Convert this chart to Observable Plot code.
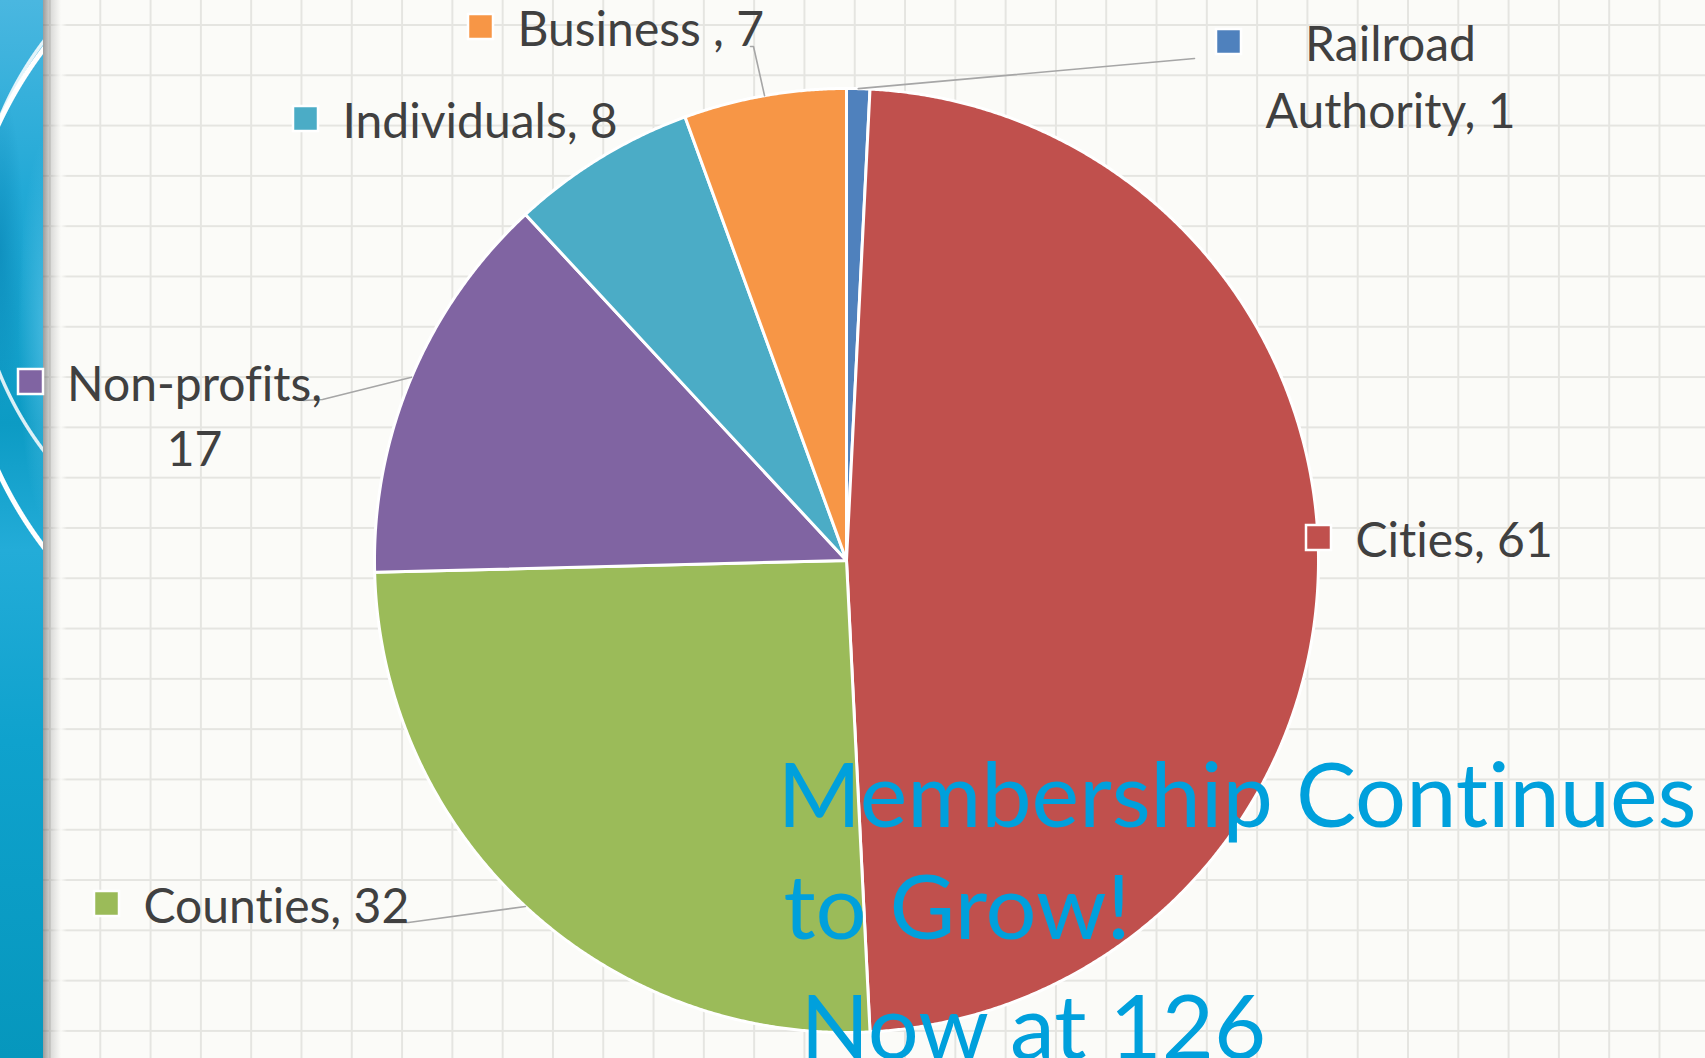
<!DOCTYPE html>
<html>
<head>
<meta charset="utf-8">
<script src="https://cdn.jsdelivr.net/npm/d3@7"></script>
<script src="https://cdn.jsdelivr.net/npm/@observablehq/plot@0.6"></script>
<style>
html, body { margin: 0; padding: 0; overflow: hidden; width: 1705px; height: 1058px; }
#stage {
  position: relative; width: 1705px; height: 1058px;
  background-color: #fbfbf8;
  background-image:
    linear-gradient(to right, #e5e5e1 0, #e5e5e1 2px, transparent 2px),
    linear-gradient(to bottom, #e5e5e1 0, #e5e5e1 2px, transparent 2px);
  background-size: 50.3px 50.3px;
  background-position: 49px 24px;
}
#band {
  position: absolute; left: 0; top: 0; width: 43px; height: 100%;
  background:
    radial-gradient(circle at 313px 246px, transparent 336px, rgba(255,255,255,0.85) 337px, rgba(255,255,255,0.85) 339.5px, transparent 340.5px),
    radial-gradient(circle at 372px 298px, transparent 409px, #ffffff 410px, #ffffff 414px, transparent 415px),
    radial-gradient(ellipse 40px 260px at 48px 330px, rgba(90,195,232,0.75), transparent 75%),
    radial-gradient(ellipse 30px 200px at 0px 250px, rgba(0,120,170,0.45), transparent 80%),
    linear-gradient(to bottom, #4ab7e0 0%, #22a9d6 18%, #0c9bc4 40%, #23acd8 52%, #0fa2cd 70%, #0697bd 100%);
}
#shade {
  position: absolute; left: 43px; top: 0; width: 24px; height: 100%;
  background: linear-gradient(to right, rgba(80,80,80,0.55) 0%, rgba(150,150,150,0.3) 35%, rgba(251,251,248,0.9) 75%, rgba(251,251,248,0) 100%);
}
#chart { position: absolute; left: 0; top: 0; }
#chart svg text { font-variant-ligatures: none; font-feature-settings: "liga" 0, "clig" 0; }
</style>
</head>
<body>
<div id="stage">
  <div id="band"></div>
  <div id="shade"></div>
  <div id="chart"></div>
</div>
<script>
// ---- data ----
const categories = ["Railroad Authority", "Cities", "Counties", "Non-profits", "Individuals", "Business "];
const values = [1, 61, 32, 17, 8, 7];
const colors = ["#4f81bd", "#c0504d", "#9bbb59", "#8064a2", "#4bacc6", "#f79646"];
const titleLines = ["Membership Continues", "to Grow!", "Now at 126"];

// ---- layout (positions, not data) ----
const W = 1705, H = 1058;
const pie = { cx: 846, cy: 560, r: 472 };
// left edge of text block, first baseline, words on first line (wrap), line spacing, leader elbow points
const labelLayout = [
  { left: 1265, base: 60,  wrap: 1, lh: 67, align: "middle", leader: [[1194, 58]] },
  { left: 1355, base: 556, align: "start" },
  { left: 143,  base: 922, align: "start", leader: [[408, 922], [387, 922]] },
  { left: 67,   base: 400, wrap: 1, lh: 65, align: "middle", leader: [[322, 399], [303, 400]] },
  { left: 342,  base: 137, align: "start" },
  { left: 517,  base: 45,  align: "start", leader: [[753, 46], [750, 46]] }
];
const titleLayout = [{ x: 777, y: 826 }, { x: 783, y: 938 }, { x: 800, y: 1058 }];
const labelFont = "Lato", labelSize = 48, titleSize = 90;

// ---- geometry from data ----
const arcs = d3.pie().sort(null).value(d => d)(values);
const slices = arcs.flatMap((a, i) => {
  const n = Math.max(2, Math.ceil((a.endAngle - a.startAngle) / (Math.PI / 720)));
  const pts = [{ cat: categories[i], x: pie.cx, y: pie.cy }];
  for (let k = 0; k <= n; k++) {
    const t = a.startAngle + (a.endAngle - a.startAngle) * k / n;
    pts.push({ cat: categories[i], x: pie.cx + pie.r * Math.sin(t), y: pie.cy - pie.r * Math.cos(t) });
  }
  return pts;
});

const ctx = document.createElement("canvas").getContext("2d");
ctx.font = `${labelSize}px ${labelFont}`;

const labelRows = [];
const keys = [];
const leaders = [];
categories.forEach((c, i) => {
  const L = labelLayout[i];
  const words = `${c}, ${values[i]}`.split(" ").filter(w => w.length);
  const lines = L.wrap ? [words.slice(0, L.wrap).join(" "), words.slice(L.wrap).join(" ")] : [words.join(" ")];
  const maxW = d3.max(lines, s => ctx.measureText(s).width);
  lines.forEach((s, j) => {
    labelRows.push({
      text: s, align: L.align,
      x: L.align === "middle" ? L.left + maxW / 2 : L.left,
      y: L.base + j * (L.lh || 0)
    });
  });
  const ky = L.base - 18.5, ks = 25;
  keys.push({ cat: c, x1: L.left - 24 - ks, x2: L.left - 24, y1: ky - ks / 2, y2: ky + ks / 2 });
  if (L.leader) {
    const mid = (arcs[i].startAngle + arcs[i].endAngle) / 2;
    leaders.push({ id: i, x: pie.cx + pie.r * Math.sin(mid), y: pie.cy - pie.r * Math.cos(mid) });
    L.leader.forEach(([x, y]) => leaders.push({ id: i, x, y }));
  }
});
const titleRows = titleLines.map((t, i) => ({ text: t, x: titleLayout[i].x, y: titleLayout[i].y }));

const chart = Plot.plot({
  width: W, height: H,
  margin: 0,
  x: { domain: [0, W], range: [0, W], axis: null },
  y: { domain: [0, H], range: [0, H], axis: null },
  color: { domain: categories, range: colors },
  style: { background: "transparent", overflow: "visible" },
  marks: [
    Plot.line(slices, { x: "x", y: "y", z: "cat", fill: "cat", stroke: "#ffffff", strokeWidth: 3, strokeLinejoin: "round", curve: "linear-closed" }),
    Plot.line(leaders, { x: "x", y: "y", z: "id", stroke: "#a6a6a6", strokeWidth: 1.6 }),
    Plot.rect(keys, { x1: "x1", x2: "x2", y1: "y1", y2: "y2", fill: "cat", stroke: "#ffffff", strokeWidth: 2.5 }),
    Plot.text(labelRows.filter(d => d.align === "start"), { x: "x", y: "y", text: "text", textAnchor: "start", lineAnchor: "bottom", fontFamily: labelFont, fontSize: labelSize, fill: "#404040" }),
    Plot.text(labelRows.filter(d => d.align === "middle"), { x: "x", y: "y", text: "text", textAnchor: "middle", lineAnchor: "bottom", fontFamily: labelFont, fontSize: labelSize, fill: "#404040" }),
    Plot.text(titleRows, { x: "x", y: "y", text: "text", textAnchor: "start", lineAnchor: "bottom", fontFamily: labelFont, fontSize: titleSize, fill: "#00a0dc" })
  ]
});
document.getElementById("chart").appendChild(chart);
</script>
</body>
</html>
